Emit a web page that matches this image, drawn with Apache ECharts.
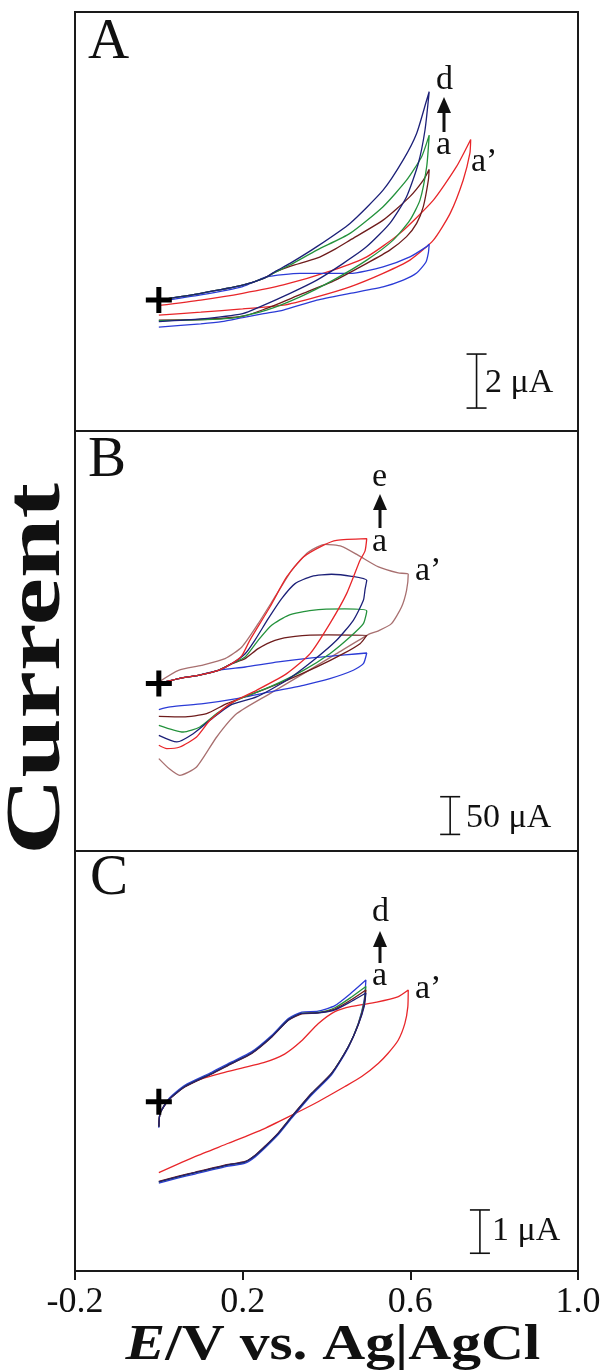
<!DOCTYPE html>
<html><head><meta charset="utf-8">
<script src="https://cdn.jsdelivr.net/npm/echarts@6/dist/echarts.min.js"></script>
<style>html,body{margin:0;padding:0;background:#fff}#c{width:604px;height:1370px}</style>
</head><body><div id="c"></div><script>
// ---------- DATA (E in V vs Ag|AgCl, I in µA; I = 0 at the "+" marker) ----------
const xTicks = [-0.2, 0.2, 0.6, 1.0];

// Panel A
const A_blue = [[0,-0.05],[0.1,0.19],[0.2,0.5],[0.257,0.86],[0.337,0.99],[0.456,0.99],[0.535,1.23],[0.599,1.6],[0.639,1.98],[0.645,2.07],[0.643,1.75],[0.637,1.4],[0.615,1.0],[0.583,0.74],[0.535,0.49],[0.456,0.25],[0.377,0.0],[0.297,-0.37],[0.25,-0.5],[0.2,-0.65],[0.15,-0.8],[0.1,-0.88],[0,-1.0]];
const A_darkred = [[0,0],[0.1,0.25],[0.2,0.55],[0.25,0.8],[0.28,1.05],[0.313,1.25],[0.377,1.55],[0.416,1.85],[0.456,2.22],[0.535,2.96],[0.599,3.83],[0.631,4.44],[0.645,4.84],[0.643,4.44],[0.631,3.46],[0.615,2.84],[0.591,2.35],[0.551,1.85],[0.496,1.36],[0.416,0.7],[0.337,0.2],[0.25,-0.35],[0.2,-0.6],[0.1,-0.72],[0,-0.74]];
const A_green = [[0,0],[0.1,0.25],[0.2,0.55],[0.25,0.8],[0.28,1.05],[0.313,1.3],[0.377,1.85],[0.456,2.47],[0.535,3.46],[0.591,4.44],[0.627,5.31],[0.645,6.11],[0.639,4.94],[0.623,3.7],[0.599,2.96],[0.559,2.22],[0.496,1.48],[0.416,0.74],[0.337,0.12],[0.257,-0.37],[0.168,-0.68],[0,-0.76]];
const A_navy = [[0,0],[0.1,0.25],[0.2,0.55],[0.25,0.8],[0.28,1.08],[0.313,1.36],[0.377,1.98],[0.456,2.84],[0.535,4.07],[0.583,5.19],[0.615,6.17],[0.639,7.41],[0.645,7.72],[0.635,6.3],[0.619,5.06],[0.591,3.83],[0.551,2.84],[0.496,1.98],[0.44,1.36],[0.377,0.74],[0.313,0.25],[0.241,-0.25],[0.2,-0.5],[0.1,-0.7],[0,-0.8]];
const A_red = [[0,-0.2],[0.1,0.0],[0.2,0.25],[0.297,0.56],[0.416,1.11],[0.496,1.6],[0.575,2.47],[0.655,3.7],[0.71,4.94],[0.744,5.95],[0.742,5.43],[0.726,4.44],[0.695,3.21],[0.655,2.22],[0.599,1.48],[0.535,0.99],[0.456,0.49],[0.377,0.12],[0.297,-0.19],[0.2,-0.33],[0.1,-0.45],[0,-0.56]];

// Panel B
const B_brown = [[0,2.2],[0.047,17.6],[0.102,24.2],[0.158,33.1],[0.198,48.6],[0.237,79.5],[0.277,114.9],[0.317,150.3],[0.357,174.6],[0.396,184.7],[0.436,182.1],[0.476,170.1],[0.524,154.7],[0.571,146.7],[0.595,144.9],[0.591,123.7],[0.579,101.6],[0.555,79.5],[0.524,70],[0.504,66.2],[0.424,39.7],[0.345,13.2],[0.265,-13.3],[0.186,-39.8],[0.138,-70.8],[0.09,-110.6],[0.05,-121.6],[0.025,-113],[0,-99.5]];
const B_blue = [[0,0],[0.047,6.6],[0.094,11],[0.142,17.6],[0.206,22],[0.285,28.7],[0.365,34],[0.444,38],[0.496,40.6],[0.488,26.5],[0.464,17.7],[0.408,6.6],[0.345,-2.2],[0.265,-11.1],[0.186,-19.9],[0.106,-26.6],[0.027,-31],[0,-34.5]];
const B_darkred = [[0,0],[0.047,6.6],[0.094,11],[0.142,17.6],[0.174,26.5],[0.206,33.1],[0.237,46.4],[0.277,57.4],[0.325,62.7],[0.404,64.5],[0.496,64],[0.48,53],[0.44,39.7],[0.377,22.1],[0.305,4.4],[0.225,-13.3],[0.162,-26.6],[0.114,-39.8],[0.058,-44.2],[0,-43.4]];
const B_green = [[0,0],[0.047,6.6],[0.094,11],[0.142,17.6],[0.174,26.5],[0.206,35.3],[0.237,57.4],[0.269,77.3],[0.309,90.6],[0.365,97.2],[0.444,99],[0.496,96.3],[0.488,79.5],[0.456,61.8],[0.408,39.7],[0.345,17.6],[0.265,-4.4],[0.186,-22.1],[0.138,-39.8],[0.098,-57.5],[0.058,-64.2],[0,-55.3]];
const B_navy = [[0,0],[0.047,6.6],[0.094,11],[0.142,17.6],[0.174,26.5],[0.206,39.7],[0.229,57.4],[0.261,86.1],[0.293,112.7],[0.325,132.6],[0.365,142.3],[0.412,145],[0.46,142.3],[0.496,137],[0.492,125],[0.488,110.5],[0.464,84],[0.424,57.4],[0.369,30.9],[0.305,4.4],[0.233,-17.7],[0.17,-28.8],[0.122,-48.7],[0.082,-66.4],[0.043,-77.4],[0,-68.6]];
const B_red = [[0,0],[0.047,6.6],[0.094,11],[0.142,17.6],[0.174,26.5],[0.198,37],[0.217,57.4],[0.265,101.6],[0.305,141.4],[0.345,168],[0.392,183.4],[0.424,190],[0.496,192.2],[0.492,176],[0.48,163.5],[0.448,119.3],[0.408,79.5],[0.361,39.7],[0.305,13.2],[0.233,-8.9],[0.17,-26.6],[0.122,-48.7],[0.09,-70.8],[0.05,-84.1],[0.019,-86.3],[0,-81.8]];

// Panel C
const C_red = [[0,-0.58],[0.003,-0.27],[0.023,0.04],[0.062,0.35],[0.1,0.52],[0.15,0.66],[0.2,0.78],[0.25,0.9],[0.3,1.1],[0.34,1.4],[0.38,1.8],[0.42,2.08],[0.46,2.2],[0.52,2.3],[0.57,2.42],[0.595,2.58],[0.594,2.19],[0.587,1.81],[0.571,1.42],[0.547,1.12],[0.524,0.89],[0.484,0.58],[0.444,0.35],[0.38,0.0],[0.309,-0.35],[0.245,-0.65],[0.166,-0.96],[0.086,-1.27],[0,-1.64]];
const C_blue = [[0,-0.6],[0.003,-0.27],[0.023,0.06],[0.062,0.38],[0.126,0.68],[0.174,0.92],[0.221,1.15],[0.269,1.53],[0.309,1.92],[0.341,2.07],[0.38,2.09],[0.42,2.22],[0.46,2.52],[0.494,2.81],[0.49,2.35],[0.476,1.81],[0.452,1.25],[0.412,0.62],[0.365,0.16],[0.317,-0.38],[0.285,-0.76],[0.253,-1.07],[0.229,-1.28],[0.206,-1.42],[0.166,-1.49],[0.086,-1.67],[0.047,-1.76],[0,-1.88]];
const C_green = [[0,-0.58],[0.003,-0.27],[0.023,0.04],[0.062,0.35],[0.126,0.65],[0.174,0.89],[0.221,1.12],[0.269,1.5],[0.309,1.89],[0.341,2.04],[0.38,2.06],[0.42,2.17],[0.46,2.42],[0.494,2.66],[0.49,2.3],[0.476,1.8],[0.452,1.27],[0.412,0.65],[0.365,0.19],[0.317,-0.35],[0.285,-0.73],[0.253,-1.04],[0.229,-1.25],[0.206,-1.39],[0.166,-1.46],[0.086,-1.64],[0.047,-1.73],[0,-1.85]];
const C_darkred = [[0,-0.57],[0.003,-0.27],[0.023,0.04],[0.062,0.34],[0.126,0.64],[0.174,0.88],[0.221,1.11],[0.269,1.49],[0.309,1.88],[0.341,2.03],[0.38,2.05],[0.42,2.14],[0.46,2.36],[0.494,2.58],[0.49,2.25],[0.476,1.79],[0.452,1.27],[0.412,0.66],[0.365,0.2],[0.317,-0.34],[0.285,-0.72],[0.253,-1.03],[0.229,-1.24],[0.206,-1.38],[0.166,-1.45],[0.086,-1.63],[0.047,-1.72],[0,-1.84]];
const C_navy = [[0,-0.58],[0.003,-0.27],[0.023,0.04],[0.062,0.35],[0.126,0.65],[0.174,0.89],[0.221,1.12],[0.269,1.5],[0.309,1.89],[0.341,2.04],[0.38,2.05],[0.42,2.12],[0.46,2.32],[0.494,2.51],[0.49,2.2],[0.476,1.78],[0.452,1.27],[0.412,0.65],[0.365,0.19],[0.317,-0.35],[0.285,-0.73],[0.253,-1.04],[0.229,-1.25],[0.206,-1.39],[0.166,-1.46],[0.086,-1.64],[0.047,-1.73],[0,-1.85]];

// scale bars: [E, I_from, I_to] and labels
const scaleBarA = [0.758, -4, -2];   const scaleLabelA = '2 μA';
const scaleBarB = [0.695, -200, -150]; const scaleLabelB = '50 μA';
const scaleBarC = [0.766, -3.5, -2.5]; const scaleLabelC = '1 μA';
const origin = [0, 0];

// ---------- CHART ----------
const COL = {blue:'#2b3bd6', green:'#24923c', darkred:'#6e1c1c', navy:'#1c2078', red:'#e8262a', brown:'#a87070'};
const SERIF = '"Liberation Serif","Times New Roman",serif';
const chart = echarts.init(document.getElementById('c'), null, {renderer:'canvas'});

const panels = [
  {top:12, height:419, min:-4.85, max:10.67, curves:[['red',A_red],['blue',A_blue],['darkred',A_darkred],['green',A_green],['navy',A_navy]], bar:scaleBarA},
  {top:431, height:420, min:-222, max:335, curves:[['brown',B_brown],['blue',B_blue],['darkred',B_darkred],['green',B_green],['navy',B_navy],['red',B_red]], bar:scaleBarB},
  {top:851, height:420, min:-3.91, max:5.79, curves:[['red',C_red],['blue',C_blue],['green',C_green],['darkred',C_darkred],['navy',C_navy]], bar:scaleBarC}
];

const grid = [], xAxis = [], yAxis = [], series = [];
panels.forEach((p, i) => {
  grid.push({left:75, right:26, top:p.top, height:p.height, show:true, borderColor:'#1a1a1a', borderWidth:2, backgroundColor:'transparent'});
  const last = i === panels.length - 1;
  xAxis.push({gridIndex:i, type:'value', min:-0.2, max:1.0, interval:0.4, show:last, position:'bottom',
    axisLine:{show:true, onZero:false, lineStyle:{color:'#1a1a1a', width:2}},
    axisTick:{show:true, inside:false, length:9, customValues: xTicks, lineStyle:{color:'#1a1a1a', width:2}},
    axisLabel:{show:true, margin:14, fontSize:36, fontFamily:SERIF, color:'#111',
      customValues: xTicks, formatter: v => v.toFixed(1)},
    splitLine:{show:false}});
  yAxis.push({gridIndex:i, type:'value', min:p.min, max:p.max, show:false, splitLine:{show:false}});
  p.curves.forEach(([c, d]) => {
    series.push({type:'line', xAxisIndex:i, yAxisIndex:i, data:d, symbol:'none', smooth:0.2,
      lineStyle:{color:COL[c], width:1.3}, silent:true, z:2});
  });
  // scale bar
  series.push({type:'line', xAxisIndex:i, yAxisIndex:i, data:[[p.bar[0], p.bar[1]],[p.bar[0], p.bar[2]]],
    symbol:'rect', symbolSize:[20,1.6], itemStyle:{color:'#111', opacity:1}, lineStyle:{color:'#111', width:1.6}, silent:true, z:3});
  // origin cross
  series.push({type:'scatter', xAxisIndex:i, yAxisIndex:i, data:[origin], symbolSize:26,
    symbol:'path://M10.5,0h5v10.5h10.5v5h-10.5v10.5h-5v-10.5h-10.5v-5h10.5z', itemStyle:{color:'#000', opacity:1}, silent:true, z:4});
});

function txt(x, y, text, size, opts) {
  opts = opts || {};
  return {type:'text', x:x, y:y, rotation:opts.rotation||0, scaleX:opts.scaleX||1, scaleY:1, z:10, silent:true,
    style:{text:text, fontSize:size, fontFamily:SERIF, fontWeight:opts.bold?'bold':'normal', fill:'#111',
      align:opts.align||'left', textAlign:opts.align||'left', verticalAlign:'middle', textVerticalAlign:'middle'}};
}
function arrow(cx, yTop, yBottom) {
  return [
    {type:'line', shape:{x1:cx, y1:yBottom, x2:cx, y2:yTop+12}, style:{stroke:'#111', lineWidth:3}, silent:true, z:10},
    {type:'polygon', shape:{points:[[cx-7,yTop+16],[cx+7,yTop+16],[cx,yTop]]}, style:{fill:'#111'}, silent:true, z:10}
  ];
}

const graphic = [
  txt(88, 43, 'A', 57), txt(88, 461, 'B', 57), txt(90, 879, 'C', 57),
  txt(436, 80, 'd', 34), txt(436, 145, 'a', 34), txt(471, 162, 'a’', 34),
  ...arrow(444, 97, 132),
  txt(372, 477, 'e', 34), txt(372, 542, 'a', 34), txt(415, 571, 'a’', 34),
  ...arrow(380, 494, 528),
  txt(372, 912, 'd', 34), txt(372, 976, 'a', 34), txt(415, 989, 'a’', 34),
  ...arrow(380, 931, 963),
  txt(485, 383, scaleLabelA, 34), txt(466, 818, scaleLabelB, 34), txt(492, 1231, scaleLabelC, 34),
  txt(39, 669, 'Current', 78, {bold:true, align:'center', rotation:Math.PI/2, scaleX:1.37}),
  {type:'text', x:333, y:1346, scaleX:1.19, z:10, silent:true,
    style:{text:'{i|E}/V vs. Ag|AgCl', fontSize:50, fontFamily:SERIF, fontWeight:'bold', fill:'#111',
      align:'center', textAlign:'center', verticalAlign:'middle', textVerticalAlign:'middle',
      rich:{i:{fontStyle:'italic', fontWeight:'bold', fontSize:50, fontFamily:SERIF, fill:'#111'}}}}
];

chart.setOption({animation:false, backgroundColor:'#fff', grid, xAxis, yAxis, series, graphic});
</script></body></html>
